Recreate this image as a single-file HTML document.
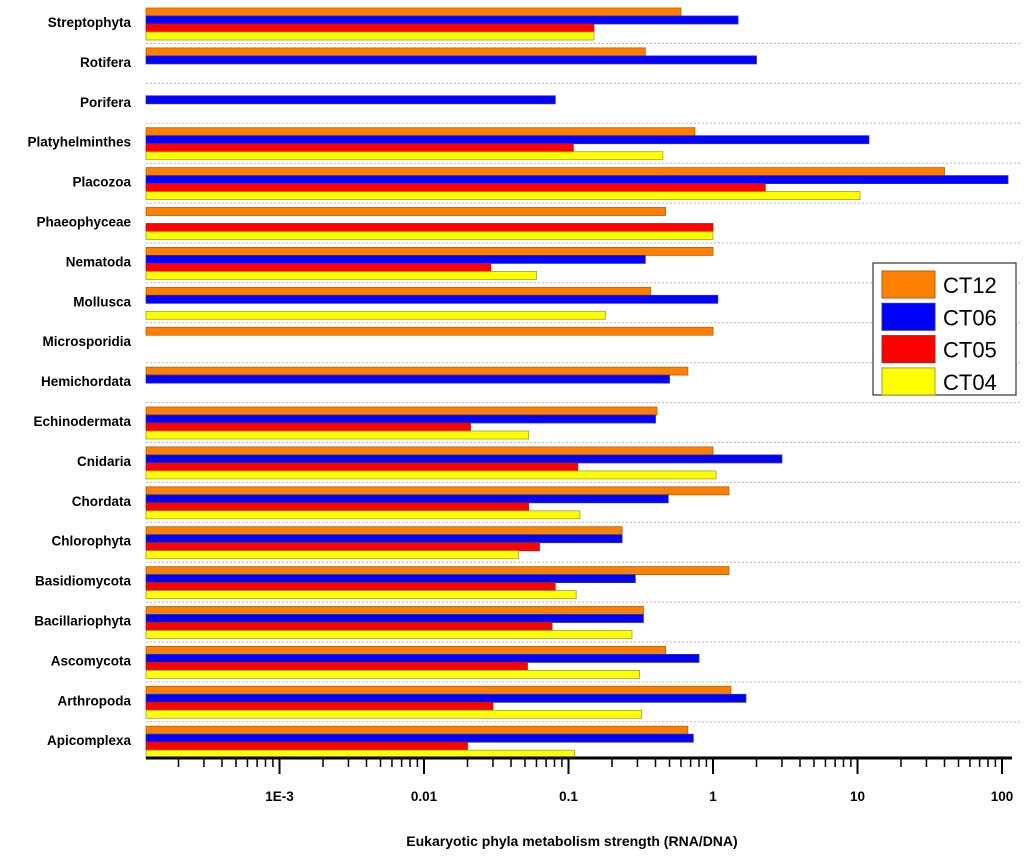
<!DOCTYPE html>
<html><head><meta charset="utf-8"><style>
body{margin:0;background:#fff;font-family:"Liberation Sans",sans-serif}
</style></head><body>
<svg id="chart" width="1024" height="861" xmlns="http://www.w3.org/2000/svg" font-family="Liberation Sans, sans-serif">
<g id="grid"></g><g id="bars"></g><g id="labels"></g><g id="axis"></g>
<text x="572" y="846" text-anchor="middle" font-size="14" font-weight="bold">Eukaryotic phyla metabolism strength (RNA/DNA)</text>
<g>
<rect x="873" y="263" width="143" height="132" fill="#fff" stroke="#333" stroke-width="1.2"/>
<g id="legend"></g>
</g>
</svg>
<script>
const categories=["Streptophyta","Rotifera","Porifera","Platyhelminthes","Placozoa","Phaeophyceae","Nematoda","Mollusca","Microsporidia","Hemichordata","Echinodermata","Cnidaria","Chordata","Chlorophyta","Basidiomycota","Bacillariophyta","Ascomycota","Arthropoda","Apicomplexa"];
const seriesNames=["CT12","CT06","CT05","CT04"];
const ct12=[0.60,0.34,null,0.75,40,0.47,1,0.37,1,0.67,0.41,1,1.29,0.235,1.29,0.33,0.47,1.33,0.67];
const ct06=[1.49,2.0,0.081,12,110,null,0.34,1.08,null,0.5,0.40,3.0,0.49,0.235,0.29,0.33,0.8,1.69,0.73];
const ct05=[0.15,null,null,0.108,2.3,1,0.029,null,null,null,0.021,0.116,0.053,0.063,0.081,0.077,0.052,0.03,0.02];
const ct04=[0.15,null,null,0.45,10.4,1,0.06,0.18,null,null,0.053,1.05,0.12,0.045,0.113,0.275,0.31,0.32,0.11];
const tickLabels=["1E-3","0.01","0.1","1","10","100"];
const tickValues=[0.001,0.01,0.1,1,10,100];
const series=[ct12,ct06,ct05,ct04];
const colors=["#ff8000","#0000ff","#ff0000","#ffff00"];
const strokes=["#b06010","#3030a0","#b02020","#a0a030"];
const NS="http://www.w3.org/2000/svg";
const X0=146;
function x(v){return 713+144.5*Math.log10(v);}
function rowTop(i){return 7+i*39.9;}
function mk(tag,attrs,parent){const e=document.createElementNS(NS,tag);for(const k in attrs)e.setAttribute(k,attrs[k]);parent.appendChild(e);return e;}
const gB=document.getElementById('bars'),gL=document.getElementById('labels'),gG=document.getElementById('grid'),gA=document.getElementById('axis'),gLeg=document.getElementById('legend');
categories.forEach((c,i)=>{
  const t=rowTop(i);
  if(i<categories.length-1){const l=mk('line',{x1:X0,x2:1020,y1:t+36.5,y2:t+36.5,stroke:'#bbb','stroke-dasharray':'2,2'},gG);
  
  }
  const tx=mk('text',{x:131,y:t+20,'text-anchor':'end','font-size':13.5,'font-weight':'bold'},gL);
  tx.textContent=c;
  
  
  series.forEach((s,k)=>{
    const v=s[i]; if(v==null)return;
    const r=mk('rect',{x:X0,y:t+1+k*8,width:Math.max(0,x(v)-X0),height:8,fill:colors[k],stroke:strokes[k],'stroke-width':0.8},gB);
    
    
  });
});
const ax=mk('line',{x1:X0,x2:1012,y1:758,y2:758,stroke:'#000','stroke-width':3},gA);


for(let d=-4;d<=1;d++){for(let m=2;m<=10;m++){const v=m*Math.pow(10,d);const px=x(v);if(px<X0+25||px>1010)continue;
  const major=(m===10);
  mk('line',{x1:px,x2:px,y1:758,y2:major?774:767,stroke:'#000','stroke-width':major?2:1.5},gA);}}
tickLabels.forEach((lab,j)=>{const t=mk('text',{x:x(tickValues[j]),y:801,'text-anchor':'middle','font-size':13.5,'font-weight':'bold'},gA);
  t.textContent=lab;
  
  });
seriesNames.forEach((n,k)=>{const y=271+k*32.3;
  const r=mk('rect',{x:882,y:y,width:53,height:27,fill:colors[k],stroke:strokes[k]},gLeg);
  
  
  const t=mk('text',{x:943,y:y+22,'font-size':22},gLeg);
  t.textContent=n;
  
  });
</script>
</body></html>
